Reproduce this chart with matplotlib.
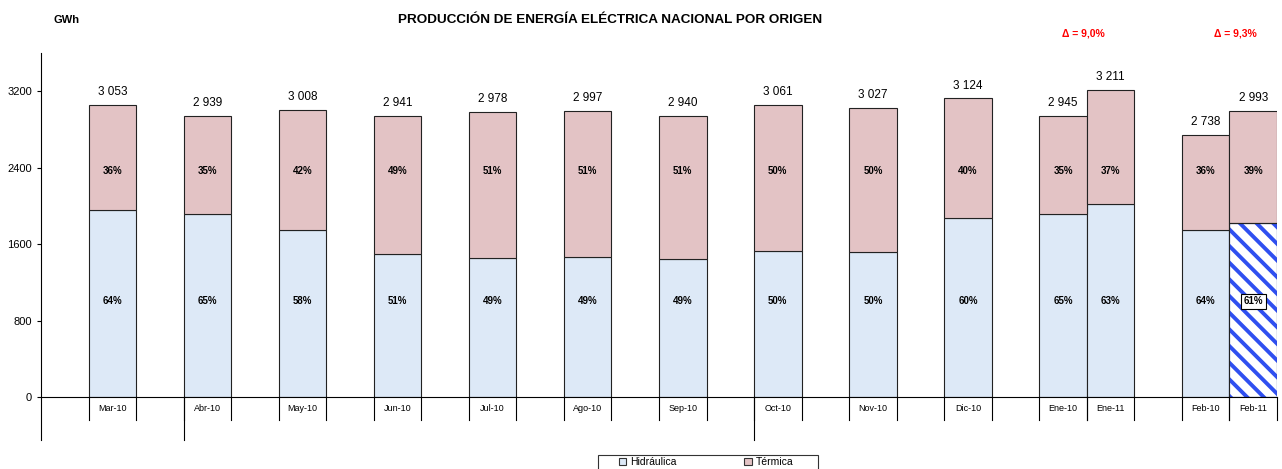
import numpy as np
import matplotlib.pyplot as plt
import matplotlib.transforms as mtransforms
from matplotlib.patches import Rectangle

meses = ['Mar-10', 'Abr-10', 'May-10', 'Jun-10', 'Jul-10', 'Ago-10', 'Sep-10',
         'Oct-10', 'Nov-10', 'Dic-10', 'Ene-10', 'Ene-11', 'Feb-10', 'Feb-11']
hidraulica = [1954, 1910, 1745, 1500, 1459, 1469, 1441, 1530, 1514, 1874, 1914, 2023, 1752, 1826]
termica = [1099, 1029, 1263, 1441, 1519, 1528, 1499, 1531, 1513, 1250, 1031, 1188, 986, 1167]
totales = ['3 053', '2 939', '3 008', '2 941', '2 978', '2 997', '2 940',
           '3 061', '3 027', '3 124', '2 945', '3 211', '2 738', '2 993']
pct_hidro = ['64%', '65%', '58%', '51%', '49%', '49%', '49%', '50%', '50%', '60%', '65%', '63%', '64%', '61%']
pct_termica = ['36%', '35%', '42%', '49%', '51%', '51%', '51%', '50%', '50%', '40%', '35%', '37%', '36%', '39%']
deltas = ['\u0394 = 9,0%', '\u0394 = 9,3%']

# huecos de 1 unidad, los ultimos meses van en pareja
slots = [1, 3, 5, 7, 9, 11, 13, 15, 17, 19, 21, 22, 24, 25]

plt.rcParams['font.family'] = ['Liberation Sans', 'DejaVu Sans']
plt.rcParams['hatch.linewidth'] = 2.8

azul = '#dde9f7'
rosa = '#e3c3c5'

fig = plt.figure(figsize=(12.82, 4.69), dpi=100)
ax = fig.add_axes([41/1282, 1-397/469, 1236/1282, 344/469])

x = np.array(slots) + 0.5
hid = ax.bar(x, hidraulica, width=1, color=azul, edgecolor='#222222', linewidth=0.8, label='Hidráulica')
ter = ax.bar(x, termica, width=1, bottom=hidraulica, color=rosa, edgecolor='#222222', linewidth=0.8, label='Térmica')

# Feb-11 rayado
ultima = hid[-1]
ultima.set_facecolor('white')
ultima.set_hatch('\\\\')
ultima.set_edgecolor('#2f4ff0')
ax.bar(x[-1], hidraulica[-1], width=1, fill=False, edgecolor='#222222', linewidth=0.8)

for i in range(len(meses)):
    ax.annotate(totales[i], (x[i], hidraulica[i] + termica[i]), xytext=(0, 5),
                textcoords='offset points', ha='center', va='bottom', fontsize=8.5)
    ax.text(x[i], 2370, pct_termica[i], ha='center', va='center', fontsize=7, fontweight='bold')
    if i == len(meses) - 1:
        ax.text(x[i], 1000, pct_hidro[i], ha='center', va='center', fontsize=7, fontweight='bold',
                bbox=dict(boxstyle='square,pad=0.3', facecolor='white', edgecolor='black', linewidth=0.8))
    else:
        ax.text(x[i], 1000, pct_hidro[i], ha='center', va='center', fontsize=7, fontweight='bold')

ax.set_xlim(0, 26)
ax.set_ylim(0, 3600)
ax.set_yticks([0, 800, 1600, 2400, 3200])
ax.tick_params(axis='y', labelsize=8, length=3, width=0.8)
ax.set_xticks([])
ax.spines['top'].set_visible(False)
ax.spines['right'].set_visible(False)
ax.spines['left'].set_bounds(0, 3600)

# lineas del eje de categorias
trans = mtransforms.blended_transform_factory(ax.transData, ax.transAxes)
for i in range(len(meses)):
    for borde in [slots[i], slots[i] + 1]:
        ax.plot([borde, borde], [0, -0.066], color='black', lw=0.8, transform=trans, clip_on=False)
    ax.text(x[i], -0.032, meses[i], ha='center', va='center', fontsize=6.5, transform=trans)
for borde in [0, 3, 15]:
    ax.plot([borde, borde], [0, -0.125], color='black', lw=0.8, transform=trans, clip_on=False)

fig.text(53/1282, 1-20/469, 'GWh', ha='left', va='center', fontsize=8, fontweight='bold')
fig.text(610/1282, 1-20/469, 'PRODUCCIÓN DE ENERGÍA ELÉCTRICA NACIONAL POR ORIGEN',
         ha='center', va='center', fontsize=9.7, fontweight='bold')
fig.text(1083/1282, 1-34/469, deltas[0], ha='center', va='center', fontsize=7.5, fontweight='bold', color='red')
fig.text(1235/1282, 1-34/469, deltas[1], ha='center', va='center', fontsize=7.5, fontweight='bold', color='red')

# leyenda: marco aparte, cortado por abajo como en el original
fig.patches.append(Rectangle((598/1282, -0.02), 220/1282, 0.02 + 14/469, transform=fig.transFigure,
                             fill=False, edgecolor='#333333', linewidth=0.8))
leg = fig.legend(handles=[hid, ter], loc='center', bbox_to_anchor=(706/1282, 1-462/469),
                 borderaxespad=0, ncol=2, fontsize=7.5, frameon=False,
                 handlelength=0.7, handleheight=0.7, handletextpad=0.4, columnspacing=6.5, borderpad=0)
for h in leg.legend_handles:
    h.set_hatch(None)
    h.set_edgecolor('#333333')

fig.savefig('out.png', dpi=100)
